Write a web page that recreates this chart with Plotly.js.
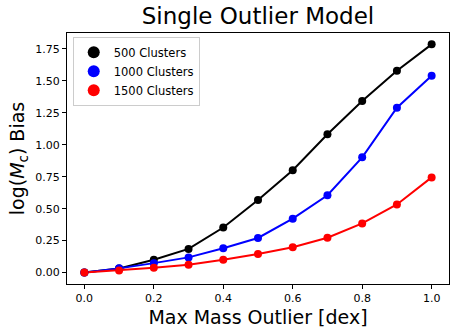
<!DOCTYPE html>
<html>
<head>
<meta charset="utf-8">
<script src="https://cdn.plot.ly/plotly-3.0.1.min.js"></script>
<style>
  html, body { margin: 0; padding: 0; background: #fff; }
  #graph1 { width: 464px; height: 336px; }
</style>
</head>
<body>
<div id="graph1"></div>
<script>
// max mass outlier (dex) on the x axis
let outlier = [0.0, 0.1, 0.2, 0.3, 0.4, 0.5, 0.6, 0.7, 0.8, 0.9, 1.0];

// log(Mc) bias for each sample size
let bias500 = [0.0, 0.032, 0.10, 0.185, 0.353, 0.568, 0.801, 1.083, 1.342, 1.579, 1.786];
let bias1000 = [0.0, 0.033, 0.074, 0.119, 0.191, 0.271, 0.422, 0.605, 0.902, 1.29, 1.541];
let bias1500 = [0.0, 0.016, 0.037, 0.061, 0.10, 0.146, 0.199, 0.273, 0.385, 0.533, 0.745];

let seriesNames = ['500 Clusters', '1000 Clusters', '1500 Clusters'];
let seriesColors = ['#000000', '#0000ff', '#ff0000'];
let seriesData = [bias500, bias1000, bias1500];

let xTicks = [0.0, 0.2, 0.4, 0.6, 0.8, 1.0];
let yTicks = [0.0, 0.25, 0.5, 0.75, 1.0, 1.25, 1.5, 1.75];

let fontFam = 'DejaVu Sans, sans-serif';

let traces = [];
// connecting lines (kept out of the legend, legend only shows the dots)
for (let i = 0; i < seriesData.length; i++)
{
  traces.push({
    x: outlier,
    y: seriesData[i],
    type: 'scatter',
    mode: 'lines',
    legendgroup: 'g' + i,
    showlegend: false,
    line: { color: seriesColors[i], width: 2 }
  });
}
for (let i = 0; i < seriesData.length; i++)
{
  traces.push({
    x: outlier,
    y: seriesData[i],
    name: seriesNames[i],
    type: 'scatter',
    mode: 'markers',
    legendgroup: 'g' + i,
    marker: { color: seriesColors[i], size: 8 }
  });
}

var layout = {
  width: 464,
  height: 336,
  margin: { l: 67, r: 15, t: 33, b: 52 },
  paper_bgcolor: '#fff',
  plot_bgcolor: '#fff',
  font: { family: fontFam, color: '#000', size: 11 },
  title: {
    text: 'Single Outlier Model',
    font: { family: fontFam, size: 23, color: '#000' },
    x: 0.556, xanchor: 'center',
    y: 0.952, yanchor: 'middle'
  },
  showlegend: true,
  legend: {
    x: 0.015, y: 0.985, xanchor: 'left', yanchor: 'top',
    bgcolor: 'rgba(255,255,255,0.8)',
    bordercolor: '#cccccc', borderwidth: 1,
    font: { family: fontFam, size: 11.5, color: '#000' },
    itemsizing: 'constant',
    tracegroupgap: 0
  },
  xaxis: {
    range: [-0.05, 1.05],
    tickvals: xTicks,
    ticktext: xTicks.map(v => v.toFixed(1)),
    ticks: 'outside', ticklen: 4, tickcolor: '#000', tickwidth: 1,
    showgrid: false, zeroline: false,
    showline: true, linecolor: '#000', linewidth: 1, mirror: true,
    automargin: false,
    title: { text: 'Max Mass Outlier [dex]', font: { family: fontFam, size: 19, color: '#000' }, standoff: 6 }
  },
  yaxis: {
    range: [-0.0893, 1.875],
    tickvals: yTicks,
    ticktext: yTicks.map(v => v.toFixed(2)),
    ticks: 'outside', ticklen: 4, tickcolor: '#000', tickwidth: 1,
    showgrid: false, zeroline: false,
    showline: true, linecolor: '#000', linewidth: 1, mirror: true,
    automargin: true,
    title: { text: 'log(<i>M</i><sub>c</sub>) Bias', font: { family: fontFam, size: 19, color: '#000' }, standoff: 5 }
  }
};

Plotly.newPlot('graph1', traces, layout, { displayModeBar: false, staticPlot: true });
</script>
</body>
</html>
